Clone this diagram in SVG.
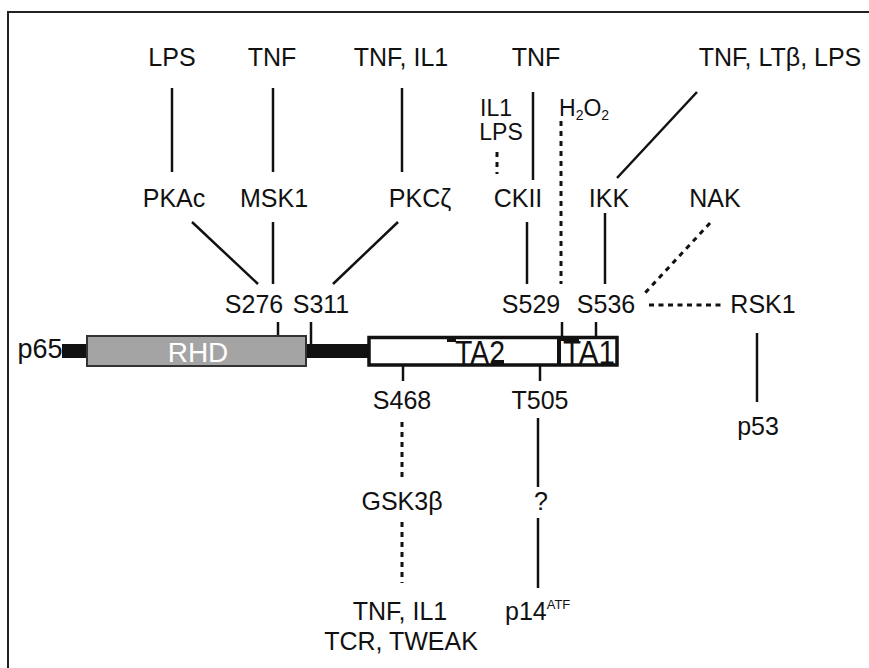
<svg xmlns="http://www.w3.org/2000/svg" width="869" height="668" viewBox="0 0 869 668">
<style>
text{font-family:"Liberation Sans",Arial,sans-serif;font-size:25px;fill:#111;text-anchor:middle}
.sm{font-size:23px}
.st{text-anchor:start}
.ln{stroke:#111;stroke-width:2.5;fill:none}
.dt{stroke:#111;stroke-width:3;fill:none;stroke-dasharray:5 5}
</style>
<rect width="869" height="668" fill="#fff"/>
<rect x="8" y="12" width="880" height="680" fill="none" stroke="#222" stroke-width="2"/>
<g id="connectors">
<line class="ln" x1="172" y1="88" x2="172" y2="172"/>
<line class="ln" x1="273" y1="88" x2="273" y2="172"/>
<line class="ln" x1="402" y1="88" x2="402" y2="172"/>
<line class="ln" x1="533" y1="92" x2="533" y2="180"/>
<line class="dt" x1="497" y1="152" x2="497" y2="174"/>
<line class="dt" x1="561" y1="121" x2="561" y2="284"/>
<line class="ln" x1="697" y1="92" x2="617" y2="178"/>
<line class="ln" x1="192" y1="222" x2="258" y2="284"/>
<line class="ln" x1="273" y1="222" x2="273" y2="284"/>
<line class="ln" x1="398" y1="222" x2="333" y2="284"/>
<line class="ln" x1="527" y1="222" x2="527" y2="284"/>
<line class="ln" x1="605" y1="213" x2="605" y2="284"/>
<line class="dt" x1="710" y1="223" x2="645" y2="293"/>
<line class="dt" x1="649" y1="305" x2="722" y2="305" style="stroke-dasharray:5 4.5"/>
<line class="ln" x1="278" y1="322" x2="278" y2="336"/>
<line class="ln" x1="311" y1="322" x2="311" y2="345"/>
<line class="ln" x1="562" y1="322" x2="562" y2="336"/>
<line class="ln" x1="596" y1="322" x2="596" y2="336"/>
<line class="ln" x1="403" y1="366" x2="403" y2="381"/>
<line class="ln" x1="540" y1="366" x2="540" y2="381"/>
<line class="dt" x1="402" y1="422" x2="402" y2="481"/>
<line class="dt" x1="402" y1="522" x2="402" y2="583"/>
<line class="ln" x1="538" y1="418" x2="538" y2="487"/>
<line class="ln" x1="538" y1="518" x2="538" y2="588"/>
<line class="ln" x1="757" y1="333" x2="757" y2="402"/>
</g>
<g id="p65">
<rect x="62" y="344" width="27" height="14" fill="#111"/>
<rect x="304" y="344" width="66" height="14" fill="#111"/>
<text x="40" y="358" style="font-size:27px">p65</text>
</g>
<g id="RHD">
<rect x="87" y="336" width="219" height="30" fill="#a4a4a4" stroke="#333" stroke-width="2"/>
<text x="198" y="362" style="font-size:28px;fill:#fff">RHD</text>
</g>
<g id="TA">
<rect x="369" y="337.5" width="248" height="27.5" fill="#fff" stroke="#111" stroke-width="3.5"/>
<line x1="559" y1="337" x2="559" y2="365" stroke="#111" stroke-width="4"/>
<rect x="447" y="336" width="9" height="6" fill="#111"/>
<rect x="492" y="360" width="12" height="6" fill="#111"/>
<rect x="559" y="336" width="20" height="5" fill="#111"/>
<text x="480" y="364" textLength="50" lengthAdjust="spacingAndGlyphs" style="font-size:34px">TA2</text>
<text x="589" y="364" textLength="52" lengthAdjust="spacingAndGlyphs" style="font-size:34px">TA1</text>
</g>
<g id="LPS"><text x="172" y="66">LPS</text></g>
<g id="TNF1"><text x="272" y="66">TNF</text></g>
<g id="TNF_IL1"><text x="401" y="66">TNF, IL1</text></g>
<g id="TNF2"><text x="536" y="66">TNF</text></g>
<g id="TNF_LTB_LPS"><text x="780" y="66">TNF, LTβ, LPS</text></g>
<g id="IL1_LPS"><text class="sm" x="496" y="116">IL1</text><text class="sm" x="501" y="140">LPS</text></g>
<g id="H2O2"><text class="sm st" x="559" y="116">H<tspan style="font-size:14px" dy="4">2</tspan><tspan dy="-4">O</tspan><tspan style="font-size:14px" dy="4">2</tspan></text></g>
<g id="PKAc"><text x="174" y="207">PKAc</text></g>
<g id="MSK1"><text x="274" y="207">MSK1</text></g>
<g id="PKCz"><text x="420" y="207">PKCζ</text></g>
<g id="CKII"><text x="518" y="207">CKII</text></g>
<g id="IKK"><text x="609" y="207">IKK</text></g>
<g id="NAK"><text x="715" y="207">NAK</text></g>
<g id="S276"><text x="254" y="313">S276</text></g>
<g id="S311"><text x="321" y="313">S311</text></g>
<g id="S529"><text x="531" y="313">S529</text></g>
<g id="S536"><text x="606" y="313">S536</text></g>
<g id="RSK1"><text x="763" y="313">RSK1</text></g>
<g id="p53"><text x="758" y="435">p53</text></g>
<g id="S468"><text x="402" y="409">S468</text></g>
<g id="T505"><text x="540" y="409">T505</text></g>
<g id="GSK3b"><text x="402" y="510">GSK3β</text></g>
<g id="Q"><text x="541" y="510">?</text></g>
<g id="TNF_IL1_TCR_TWEAK"><text x="400" y="620">TNF, IL1</text><text x="401" y="650">TCR, TWEAK</text></g>
<g id="p14ATF"><text class="st" x="505" y="620">p14<tspan style="font-size:13px" dy="-11">ATF</tspan></text></g>
</svg>
